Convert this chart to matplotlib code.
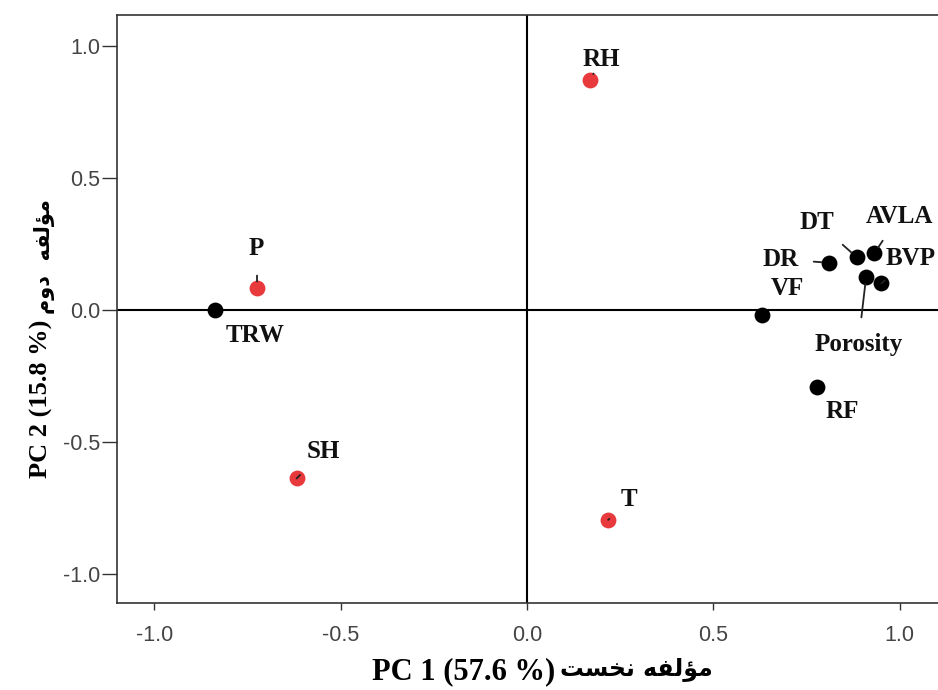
import matplotlib
matplotlib.use("Agg")
import matplotlib.pyplot as plt

# variables and their loadings on PC1 / PC2
nomes = ["RH", "P", "TRW", "SH", "T", "VF", "RF", "DR", "DT", "AVLA", "Porosity", "BVP"]
pc1 = [0.169, -0.724, -0.838, -0.618, 0.218, 0.630, 0.779, 0.810, 0.885, 0.932, 0.910, 0.951]
pc2 = [0.871, 0.082, 0.000, -0.638, -0.795, -0.019, -0.293, 0.179, 0.200, 0.215, 0.124, 0.101]
grupo = ["r", "r", "k", "r", "r", "k", "k", "k", "k", "k", "k", "k"]

# where each name is written and whether it gets a leader line
txt_x = [0.200, -0.725, -0.730, -0.547, 0.275, 0.700, 0.846, 0.680, 0.779, 0.999, 0.889, 1.030]
txt_y = [0.950, 0.232, -0.095, -0.537, -0.718, 0.082, -0.385, 0.193, 0.333, 0.356, -0.129, 0.197]
linha = [True, True, False, True, True, False, False, True, True, True, True, True]

xticks = [-1.0, -0.5, 0.0, 0.5, 1.0]
yticks = [-1.0, -0.5, 0.0, 0.5, 1.0]

# persian words in shaped (presentation) forms, visual order
fa_pc2 = "\uFEE1\uFEED\uFEA9  \uFEEA\uFED4\uFEDF\uFE86\uFEE3"
fa_pc1 = "\uFE96\uFEB4\uFEA8\uFEE7 \uFEEA\uFED4\uFEDF\uFE86\uFEE3"

serif = ["Liberation Serif", "DejaVu Sans"]
cores = {"r": "#e8393c", "k": "black"}

fig = plt.figure(figsize=(9.38, 6.9), dpi=100)
ax = fig.add_axes([0.1247, 0.126, 0.8753, 0.852])

ax.axhline(0, color="black", lw=1.5, zorder=1)
ax.axvline(0, color="black", lw=1.5, zorder=1)

for i in range(len(nomes)):
    ax.scatter(pc1[i], pc2[i], s=130, color=cores[grupo[i]], zorder=3, linewidths=0)
    if linha[i]:
        ax.annotate(nomes[i], xy=(pc1[i], pc2[i]), xytext=(txt_x[i], txt_y[i]),
                    ha="center", va="center", fontsize=18, fontweight="bold",
                    family=serif, color="#111111",
                    arrowprops=dict(arrowstyle="-", color="#222222", lw=1.3,
                                    shrinkA=9, shrinkB=5), zorder=4)
    else:
        ax.text(txt_x[i], txt_y[i], nomes[i], ha="center", va="center",
                fontsize=18, fontweight="bold", family=serif, color="#111111")

ax.set_xlim(-1.10, 1.103)
ax.set_ylim(-1.11, 1.117)
ax.set_xticks(xticks)
ax.set_yticks(yticks)
ax.set_xticklabels([f"{v:.1f}" for v in xticks])
ax.set_yticklabels([f"{v:.1f}" for v in yticks])

for lab in ax.get_xticklabels() + ax.get_yticklabels():
    lab.set_family("Liberation Sans")
    lab.set_fontsize(15.5)
    lab.set_color("#444444")

ax.tick_params(axis="y", direction="out", length=11, width=1, pad=1, color="#333333")
ax.tick_params(axis="x", direction="out", length=5, width=1, pad=11, color="#333333")

ax.spines["right"].set_visible(False)
for lado in ["left", "bottom", "top"]:
    ax.spines[lado].set_color("#333333")
    ax.spines[lado].set_linewidth(1.2)

# x axis title: english part + persian part
fig.text(0.592, 0.026, "PC 1 (57.6 %)", ha="right", va="center",
         fontsize=22, fontweight="bold", family="Liberation Serif")
fig.text(0.597, 0.030, fa_pc1, ha="left", va="center",
         fontsize=17, fontweight="bold", family="DejaVu Sans")

# y axis title, read bottom to top
fig.text(0.044, 0.307, "PC 2 (15.8 %)", ha="center", va="bottom", rotation=90,
         fontsize=19, fontweight="bold", family="Liberation Serif")
fig.text(0.047, 0.545, fa_pc2, ha="center", va="bottom", rotation=90,
         fontsize=15, fontweight="bold", family="DejaVu Sans")

fig.savefig("out.png", dpi=100)
